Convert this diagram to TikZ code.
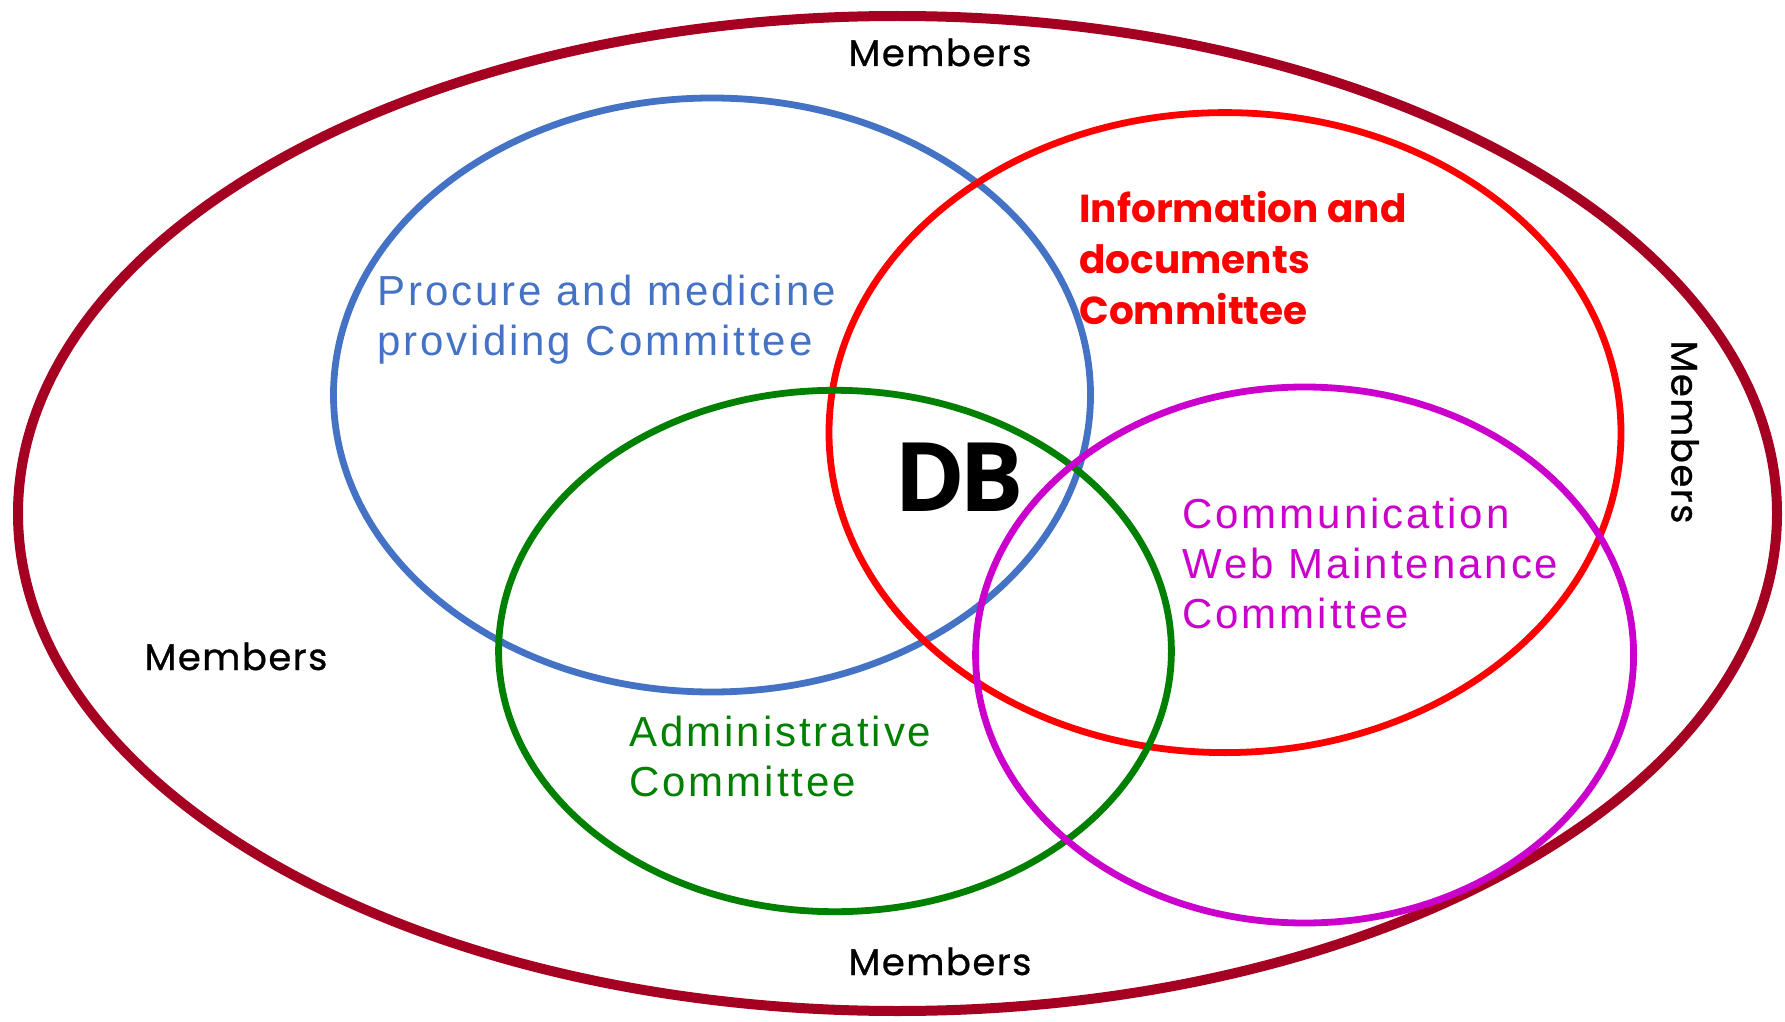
\documentclass[tikz,border=0pt]{standalone}
\usepackage{fontspec}
\setmainfont{Liberation Sans}
\newfontfamily\comfont[LetterSpace=7]{Liberation Sans}
\newfontfamily\geofont[LetterSpace=4,FakeBold=0.8]{Poppins}
\newfontfamily\infofont{Poppins}
\newfontfamily\dbfont[LetterSpace=-6]{Open Sans}
\definecolor{outerred}{HTML}{A50021}
\definecolor{cblue}{HTML}{4472C4}
\definecolor{cred}{HTML}{FF0000}
\definecolor{cgreen}{HTML}{008000}
\definecolor{cmag}{HTML}{CC00CC}
\tikzset{
  ring/.style={line width=3.4pt},
  comtext/.style={inner sep=0pt, anchor=north west, align=left, font=\comfont\fontsize{21}{25}\selectfont},
  memtext/.style={inner sep=0pt, anchor=base, font=\geofont\fontsize{18.5}{22}\selectfont},
}
\begin{document}
\begin{tikzpicture}[x=0.5pt,y=-0.5pt]
\useasboundingbox (0,0) rectangle (1785,1022);
\draw[outerred, line width=5pt] (897.5,513.5) ellipse [x radius=879.5, y radius=497.5];
\draw[ring, cblue] (712,395) ellipse [x radius=378.5, y radius=297];
\draw[ring, cred] (1225,432.6) ellipse [x radius=396, y radius=320];
\draw[ring, cgreen] (835,651) ellipse [x radius=336.4, y radius=260.7];
\draw[ring, cmag] (1304.6,655) ellipse [x radius=329, y radius=268];

\node[memtext] (mtop) at (940,66) {Members};
\node[memtext] (mleft) at (236,670) {Members};
\node[memtext] (mbot) at (940,975) {Members};
\node[inner sep=0pt, anchor=center, rotate=-90, font=\geofont\fontsize{18.5}{22}\selectfont] (mright) at (1685,432) {Members};

\node[comtext, text=cblue] (proc) at (377,275) {Procure and medicine\\providing Committee};
\node[inner sep=0pt, anchor=north west, align=left, text=cred, font=\infofont\bfseries\fontsize{19.5}{25.5}\selectfont] (info) at (1079,191) {Information and\\documents\\Committee};
\node[comtext, text=cmag] (comm) at (1182,498) {Communication\\Web Maintenance\\Committee};
\node[comtext, text=cgreen] (admin) at (629,716) {Administrative\\Committee};
\node[inner sep=0pt, anchor=center, font=\dbfont\bfseries\fontsize{48}{50}\selectfont] (db) at (959,477) {DB};
\end{tikzpicture}
\end{document}
